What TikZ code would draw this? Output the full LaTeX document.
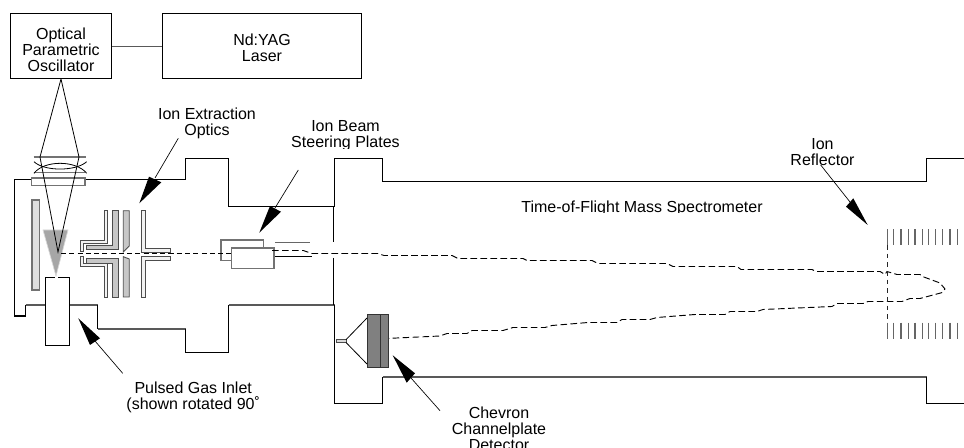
\documentclass[tikz,border=0pt]{standalone}
\usepackage{fontspec}
\setmainfont{Liberation Sans}
\tikzset{
  label text/.style={inner sep=0pt,outer sep=0pt,align=center,font=\fontsize{12}{12}\selectfont},
  labbox/.style={draw=black,line width=.75pt,inner sep=0pt,outer sep=0pt},
  wall/.style={draw=black,line width=.8pt,line join=miter},
  soft wall/.style={draw=black!65,line width=.95pt},
  thinwall/.style={draw=black,line width=.65pt},
  ray/.style={draw=black,line width=.6pt},
  gray edge/.style={draw=black!55,line width=.85pt},
  electrode/.style={draw=black!70,line width=.65pt,fill=black!22,line join=miter},
  electrode thin/.style={draw=black!70,line width=.65pt,fill=black!5,line join=miter},
  ionpath/.style={draw=black,line width=.7pt,dash pattern=on 5pt off 2.5pt},
  pointer/.style={draw=black,line width=.5pt},
  pointer head/.style={fill=black},
  grid bar/.style={draw=black!60,line width=.9pt}
}
\begin{document}
\begin{tikzpicture}[x=0.75pt,y=-0.75pt]
\useasboundingbox (0,0) rectangle (964,448);
% upper boxes
\node[labbox,minimum width=75.75pt,minimum height=49.1pt] (opo) at (61,46.25) {};
\node[labbox,minimum width=149pt,minimum height=49.1pt] (yag) at (261.75,46.25) {};
\node[label text] (opotext) at (61,49.7) {Optical\\Parametric\\Oscillator};
\node[label text] (yagtext) at (262,48) {Nd:YAG\\Laser};
\draw[black!65,line width=1.1pt] (opo.east) -- (yag.west);
% chamber outline
\draw[wall] (25.5,305) -- (25.5,316) -- (14.5,316) -- (14.5,179.5) -- (185.5,179.5) -- (185.5,158.5) -- (228.5,158.5) -- (228.5,206.5) -- (334.5,206.5) -- (334.5,158.5) -- (382.5,158.5) -- (382.5,181.5) -- (926.5,181.5) -- (926.5,158.5) -- (964,158.5);
\draw[soft wall] (25.5,305) -- (45.5,305);
\draw[soft wall] (69,305) -- (97.5,305);
\draw[wall] (97.5,305) -- (97.5,329);
\draw[soft wall] (97.5,329) -- (185.5,329);
\draw[wall] (185.5,329) -- (185.5,352.5) -- (228.5,352.5) -- (228.5,305);
\draw[soft wall] (228.5,305) -- (334.5,305);
\draw[wall] (334.5,305) -- (334.5,403.5) -- (382.5,403.5) -- (382.5,377);
\draw[soft wall] (382.5,377) -- (926.5,377);
\draw[wall] (926.5,377) -- (926.5,403.5) -- (964,403.5);
\draw[thinwall] (333.5,206.5) -- (333.5,242);
\draw[thinwall] (333.5,258) -- (333.5,305);
% lens and window
\draw[black!55,line width=1.1pt] (33.7,157) -- (86,157);
\draw[black!55,line width=1.1pt] (34,172.7) -- (85,172.7);
\draw[ray] (34,173.3) .. controls (44,160) and (76,160) .. (86.7,173.3);
\draw[ray] (34,161.7) .. controls (44,171.5) and (76,171.5) .. (86.7,161.7);
\draw[gray edge,fill=white] (31.7,178) rectangle (85,185.7);
% target plate, gas cone, inlet
\draw[gray edge,fill=black!12] (32,200) rectangle (39.5,290);
\fill[black!35] (43,230) -- (68,230) -- (56,276) -- cycle;
\draw[black!15,line width=.5pt] (43,230) -- (68,230) -- (56,276) -- cycle;
\draw[wall,line width=.7pt,fill=white] (45.5,277.5) rectangle (69,345.5);
\draw[white,line width=1.2pt] (55,277.5) -- (58,277.5);
% laser beam
\coordinate (focus) at (58,252);
\draw[ray] (opo.south) -- (40,157) -- (focus) -- (79,157) -- (opo.south);
% extraction optics
\path[electrode thin] (104.3,210.7) -- (107.7,210.7) -- (107.7,243.3) -- (83.3,243.3) -- (83.3,251.7) -- (80.7,251.7) -- (80.7,240.7) -- (104.3,240.7) -- cycle;
\path[electrode] (112.7,210.7) -- (118.3,210.7) -- (118.3,249.3) -- (86,249.3) -- (86,245) -- (112.7,245) -- cycle;
\path[electrode] (123.3,210.7) -- (129.3,210.7) -- (129.3,246) -- (123.3,252) -- cycle;
\path[electrode thin] (141.7,210.7) -- (145,210.7) -- (145,248.3) -- (170,248.3) -- (170,252) -- (141.7,252) -- cycle;
\path[electrode thin] (80.7,256.3) -- (83.3,256.3) -- (83.3,263.5) -- (107.7,263.5) -- (107.7,297) -- (104.3,297) -- (104.3,266.7) -- (80.7,266.7) -- cycle;
\path[electrode] (86,258.5) -- (118.3,258.5) -- (118.3,297) -- (112.7,297) -- (112.7,263) -- (86,263) -- cycle;
\path[electrode] (123.3,256.7) -- (129.3,259) -- (129.3,297) -- (123.3,297) -- cycle;
\path[electrode thin] (141.7,256.7) -- (170,256.7) -- (170,260) -- (145,260) -- (145,297) -- (141.7,297) -- cycle;
% steering plates and ion beam
\draw[gray edge] (221,240) rectangle (263.5,260.3);
\draw[ionpath,dash pattern=on 3.8pt off 2.4pt] (61,253.5) -- (231.7,253.5);
\draw[gray edge,fill=white] (231.7,248) rectangle (274,268.5);
\draw[black!60,line width=1.1pt] (275,242.7) -- (309.5,242.7);
\draw[ray] (275,256.5) -- (312,256.5);
\draw[ionpath] (272,250.5) -- (303.3,250.5) -- (311.7,253.5) -- (378,253.5) -- (384,255.5) -- (452,255.5) -- (458,258.5) -- (523,258.5) -- (527,260.5) -- (592,260.5) -- (598,263.5) -- (667,263.5) -- (673,266.5) -- (737,266.5) -- (741,269.5) -- (812,269.5) -- (816,271.5) -- (880,271.5) -- (885,274.5) -- (887,271.5) -- (897,274.5) -- (920,274.5) -- (923,276.7) -- (940,283) -- (945,289) -- (941.7,292.7) -- (920,298.5) -- (910,298.5) -- (902,301.5) -- (868,301.5) -- (863,303.5) -- (837,303.5) -- (832,306.5) -- (763,309.5) -- (757,311.5) -- (730,311.5) -- (725,314.5) -- (695,314.5) -- (657,317.5) -- (650,319.5) -- (622,319.5) -- (617,322.5) -- (588,322.5) -- (552,325.5) -- (545,327.5) -- (513,327.5) -- (503,330.5) -- (472,330.5) -- (467,333.5) -- (447,333.5) -- (440,336) -- (386,338.5);
% detector
\draw[black!80,line width=.75pt,fill=black!50] (367.7,314.5) rectangle (380.5,367.5);
\draw[black!80,line width=.75pt,fill=black!50] (380.5,314.5) rectangle (388.7,367.5);
\draw[black!70,line width=.7pt,fill=black!15] (336,339.7) rectangle (346,342.5);
\draw[ray] (346,339.7) -- (367,318);
\draw[ray] (346,342.5) -- (367,364);
% reflector grids
\foreach \gx in {887.7,893.3,901,908.3,915,922.3,928.3,935.7,942.3,950,957.3}{
  \draw[grid bar] (\gx,229.3) -- (\gx,245);
  \draw[grid bar] (\gx,322.7) -- (\gx,338.7);
}
\draw[draw=black!85,line width=.7pt,dash pattern=on 3.5pt off 3pt] (887.7,245) -- (887.7,322.7);
% labels
\node[label text] (extract) at (207,123.2) {Ion Extraction\\Optics};
\begin{scope}
\clip (285,115) rectangle (405,148.6);
\node[label text] (steer) at (345.5,135.8) {Ion Beam\\Steering Plates};
\end{scope}
\begin{scope}
\clip (515,195) rectangle (770,212.6);
\node[label text] (tof) at (642,208.5) {Time-of-Flight Mass Spectrometer};
\end{scope}
\node[label text] (reflect) at (822.5,152.2) {Ion\\Reflector};
\node[label text] (inlet) at (193.2,397.2) {Pulsed Gas Inlet\\(shown rotated 90˚};
\node[label text] (chevron) at (499,429.2) {Chevron\\Channelplate\\Detector};
% pointers
\coordinate (p1a) at (178.3,138.3); \coordinate (p1b) at (139.3,203.3);
\draw[pointer] (p1a) -- (155,178);
\fill[pointer head] (p1b) -- (149,176.7) -- (161.3,182.3) -- cycle;
\coordinate (p2a) at (298.3,170); \coordinate (p2b) at (259.3,232.7);
\draw[pointer] (p2a) -- (275,208);
\fill[pointer head] (p2b) -- (270,206) -- (281,211.7) -- cycle;
\coordinate (p3a) at (122.7,373.3); \coordinate (p3b) at (78.3,318.3);
\draw[pointer] (p3a) -- (95,341);
\fill[pointer head] (p3b) -- (100,338.3) -- (90,345) -- cycle;
\coordinate (p4a) at (440,410.7); \coordinate (p4b) at (392.7,355.3);
\draw[pointer] (p4a) -- (411,378);
\fill[pointer head] (p4b) -- (415,373.3) -- (406.7,382.7) -- cycle;
\coordinate (p5a) at (820.7,165); \coordinate (p5b) at (867.7,225);
\draw[pointer] (p5a) -- (850,202);
\fill[pointer head] (p5b) -- (853.3,198.3) -- (846,206.7) -- cycle;
\end{tikzpicture}
\end{document}
